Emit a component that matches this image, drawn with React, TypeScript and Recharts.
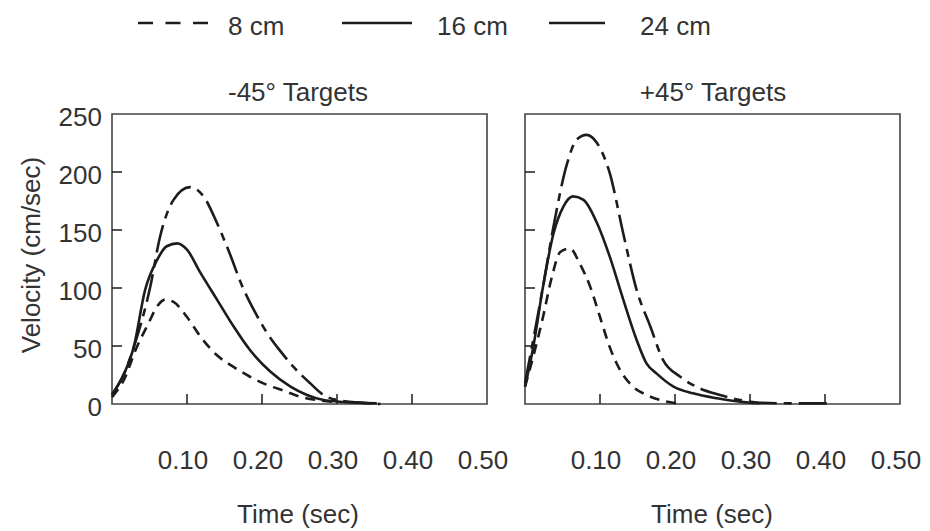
import { LineChart, Line, XAxis, YAxis, ReferenceArea } from 'recharts';

// time (sec) / velocity (cm/sec) samples
const leftT8 = [0, 0.016, 0.033, 0.049, 0.06, 0.071, 0.082, 0.1, 0.118, 0.14, 0.162, 0.184, 0.207, 0.229, 0.251, 0.273, 0.3];
const leftV8 = [6, 21, 49, 70, 84, 90, 88, 75, 58, 42, 32, 23.5, 16.4, 11.5, 6.3, 3.4, 1.7];
const leftT16 = [0, 0.016, 0.029, 0.044, 0.06, 0.073, 0.087, 0.1, 0.118, 0.14, 0.162, 0.184, 0.211, 0.238, 0.26, 0.282, 0.309, 0.327, 0.353];
const leftV16 = [8, 26, 49, 98, 124, 136, 138.5, 133, 113, 90, 67, 46.5, 28, 15, 7.8, 3.4, 1.7, 1.1, 0.5];
const leftT24 = [0, 0.016, 0.029, 0.051, 0.064, 0.082, 0.104, 0.122, 0.14, 0.158, 0.172, 0.19, 0.207, 0.224, 0.242, 0.264, 0.282, 0.3, 0.327, 0.358];
const leftV24 = [8, 26, 49, 101, 144, 176, 187, 179, 156, 128, 104, 80, 61, 46, 32, 18, 7.8, 3.4, 1.4, 0];

const rightT8 = [0, 0.011, 0.024, 0.036, 0.047, 0.06, 0.073, 0.087, 0.1, 0.113, 0.127, 0.144, 0.162, 0.18, 0.202];
const rightV8 = [15, 41, 75, 110, 131, 134, 121, 101, 75, 49, 29, 15, 7.8, 3.4, 0.6];
const rightT16 = [0, 0.011, 0.024, 0.038, 0.051, 0.064, 0.078, 0.096, 0.113, 0.131, 0.149, 0.162, 0.176, 0.198, 0.224, 0.256, 0.287, 0.313];
const rightV16 = [15, 49, 101, 147, 170, 179, 176, 156, 127, 90, 55, 35, 26, 15, 9.2, 4.9, 2, 0.6];
const rightT24 = [0, 0.024, 0.038, 0.056, 0.069, 0.082, 0.096, 0.113, 0.131, 0.149, 0.167, 0.184, 0.207, 0.233, 0.26, 0.287, 0.313, 0.349, 0.38, 0.41];
const rightV24 = [18, 101, 153, 207, 228, 232, 225, 199, 147, 98, 67, 38, 23.5, 13.5, 7.8, 3.4, 1.1, 0.6, 0.5, 0.5];

const xTicks = [0, 0.1, 0.2, 0.3, 0.4, 0.5];
const yTicks = [0, 50, 100, 150, 200, 250];
const legendLabels = ['8 cm', '16 cm', '24 cm'];
const panelTitles = ['-45° Targets', '+45° Targets'];

const FONT = "'Liberation Sans', Arial, sans-serif";
const INK = '#1c1c1c';
const TEXT = '#333';

const zip = (ts: number[], vs: number[]) => ts.map((t, i) => ({ t, v: vs[i] }));

function XTick(props: any) {
  const { x, y, payload } = props;
  const val = payload.value as number;
  return (
    <g>
      {val > 0 && val < 0.5 && <line x1={x} x2={x} y1={y} y2={y - 10} stroke={INK} strokeWidth={1.5} />}
      {val > 0 && (
        <text x={x - 4} y={y + 56} textAnchor="middle" dominantBaseline="central" fontSize={26} fill={TEXT} fontFamily={FONT}>
          {val.toFixed(2)}
        </text>
      )}
    </g>
  );
}

function YTick(props: any) {
  const { x, y, payload, showLabel } = props;
  const val = payload.value as number;
  return (
    <g>
      {val > 0 && val < 250 && <line x1={x} x2={x + 10} y1={y} y2={y} stroke={INK} strokeWidth={1.5} />}
      {showLabel && (
        <text x={x - 10} y={y + 3} textAnchor="end" dominantBaseline="central" fontSize={26} fill={TEXT} fontFamily={FONT}>
          {val}
        </text>
      )}
    </g>
  );
}

function Panel({ d8, d16, d24, showY, margin, width }: any) {
  return (
    <LineChart width={width} height={531} margin={margin}>
      <XAxis
        dataKey="t"
        type="number"
        domain={[0, 0.5]}
        ticks={xTicks}
        height={30}
        tickSize={0}
        tickMargin={0}
        axisLine={false}
        tickLine={false}
        tick={<XTick />}
        allowDuplicatedCategory={false}
      />
      <YAxis
        dataKey="v"
        type="number"
        domain={[0, 250]}
        ticks={yTicks}
        width={30}
        tickSize={0}
        tickMargin={0}
        axisLine={false}
        tickLine={false}
        tick={<YTick showLabel={showY} />}
      />
      <ReferenceArea x1={0} x2={0.5} y1={0} y2={250} fill="none" stroke="#444" strokeWidth={1.6} />
      <Line data={d8} dataKey="v" type="monotone" stroke={INK} strokeWidth={2.6} strokeDasharray="10 7" dot={false} isAnimationActive={false} />
      <Line data={d16} dataKey="v" type="monotone" stroke={INK} strokeWidth={2.6} dot={false} isAnimationActive={false} />
      <Line data={d24} dataKey="v" type="monotone" stroke={INK} strokeWidth={2.6} strokeDasharray="28 7 8 7" dot={false} isAnimationActive={false} />
    </LineChart>
  );
}

export default function App() {
  return (
    <div style={{ position: 'absolute', left: 0, top: 0, width: 930, height: 531, background: '#fff', fontFamily: FONT }}>
      <div style={{ position: 'absolute', left: 0, top: 0 }}>
        <Panel
          d8={zip(leftT8, leftV8)}
          d16={zip(leftT16, leftV16)}
          d24={zip(leftT24, leftV24)}
          showY
          width={515}
          margin={{ top: 114, right: 28, left: 82, bottom: 97 }}
        />
      </div>
      <div style={{ position: 'absolute', left: 515, top: 0 }}>
        <Panel
          d8={zip(rightT8, rightV8)}
          d16={zip(rightT16, rightV16)}
          d24={zip(rightT24, rightV24)}
          showY={false}
          width={415}
          margin={{ top: 114, right: 30, left: -20, bottom: 97 }}
        />
      </div>
      <svg width={930} height={531} style={{ position: 'absolute', left: 0, top: 0, pointerEvents: 'none' }} fontFamily={FONT} fill={TEXT}>
        {/* legend */}
        <line x1={138} x2={208} y1={23} y2={23} stroke={INK} strokeWidth={2.6} strokeDasharray="15 12.5" />
        <text x={228} y={26} fontSize={26} dominantBaseline="central">{legendLabels[0]}</text>
        <line x1={342} x2={412} y1={23} y2={23} stroke={INK} strokeWidth={2.6} />
        <text x={437} y={26} fontSize={26} dominantBaseline="central">{legendLabels[1]}</text>
        <line x1={549} x2={605} y1={23} y2={23} stroke={INK} strokeWidth={2.6} />
        <text x={640} y={26} fontSize={26} dominantBaseline="central">{legendLabels[2]}</text>
        {/* panel titles */}
        <text x={298} y={92} fontSize={26} textAnchor="middle" dominantBaseline="central">{panelTitles[0]}</text>
        <text x={713} y={92} fontSize={26} textAnchor="middle" dominantBaseline="central">{panelTitles[1]}</text>
        {/* axis titles */}
        <text x={298} y={514} fontSize={26} textAnchor="middle" dominantBaseline="central">Time (sec)</text>
        <text x={712} y={514} fontSize={26} textAnchor="middle" dominantBaseline="central">Time (sec)</text>
        <text x={31} y={255} fontSize={26} textAnchor="middle" dominantBaseline="central" transform="rotate(-90 31 255)">
          Velocity (cm/sec)
        </text>
      </svg>
    </div>
  );
}
